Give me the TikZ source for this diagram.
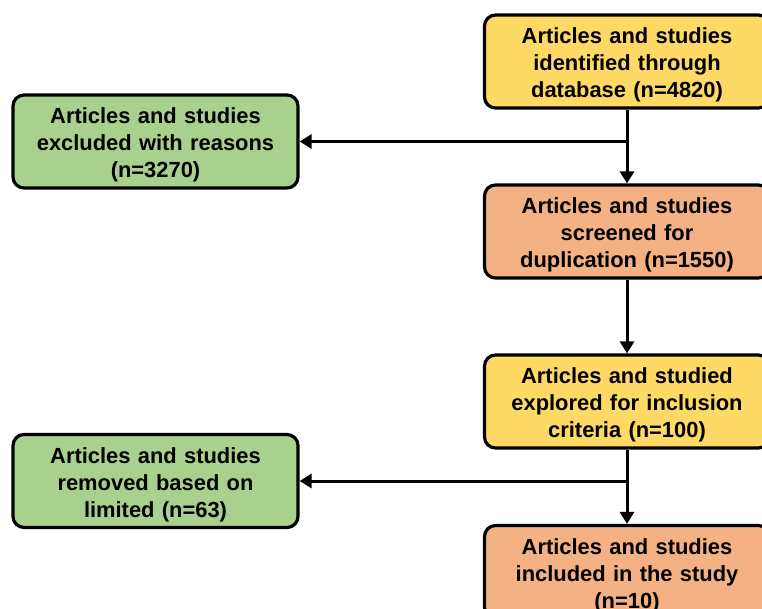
\documentclass[tikz,border=0pt]{standalone}
\usepackage{fontspec}
\setmainfont{Liberation Sans}
\usetikzlibrary{arrows.meta}
\definecolor{cyel}{HTML}{FFD966}
\definecolor{cora}{HTML}{F4B183}
\definecolor{cgrn}{HTML}{A9D18E}
\tikzset{
  box/.style={draw=black, line width=3.2pt, rounded corners=11pt, minimum width=285pt, minimum height=93pt,
    text width=280pt, align=center, inner sep=0pt, text height=16pt, text depth=52pt,
    font=\bfseries\fontsize{21.9}{27}\selectfont},
  conn/.style={line width=3pt, -{Triangle[length=12pt,width=14pt]}}
}
\begin{document}
\begin{tikzpicture}[x=1pt,y=-1pt]
\useasboundingbox (0,0) rectangle (762,609);
\clip (0,0) rectangle (762,609);
\node[box, fill=cyel] (b1) at (627,61.5) {Articles and studies\\identified through\\database (n=4820)};
\node[box, fill=cora] (b2) at (627,231.5) {Articles and studies\\screened for\\duplication (n=1550)};
\node[box, fill=cyel] (b3) at (627,401.5) {Articles and studied\\explored for inclusion\\criteria (n=100)};
\node[box, fill=cora] (b4) at (627,572) {Articles and studies\\included in the study\\(n=10)};
\node[box, fill=cgrn] (g1) at (155.5,141.5) {Articles and studies\\excluded with reasons\\(n=3270)};
\node[box, fill=cgrn] (g2) at (155.5,481) {Articles and studies\\removed based on\\limited (n=63)};
\draw[conn] (b1) -- (b2);
\draw[conn] (b2) -- (b3);
\draw[conn] (b3) -- (b4);
\draw[conn] (b1.south |- g1.east) -- (g1.east);
\draw[conn] (b3.south |- g2.east) -- (g2.east);
\end{tikzpicture}
\end{document}
